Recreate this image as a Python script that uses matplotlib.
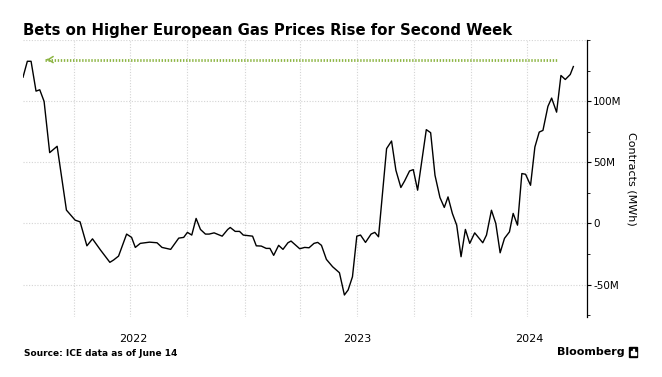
import matplotlib
matplotlib.use("Agg")
import matplotlib.pyplot as plt
from matplotlib.patches import Rectangle
from matplotlib.ticker import FixedLocator
import pandas as pd

# weekly net positions (millions of MWh)
dates = [
    "2022-01-09", "2022-01-16", "2022-01-22", "2022-01-30", "2022-02-05", "2022-02-12",
    "2022-02-21", "2022-03-05", "2022-03-20", "2022-04-03", "2022-04-11", "2022-04-22",
    "2022-05-01", "2022-05-14", "2022-05-29", "2022-06-04", "2022-06-12", "2022-06-25",
    "2022-07-03", "2022-07-09", "2022-07-17", "2022-08-01", "2022-08-13", "2022-08-21",
    "2022-09-04", "2022-09-17", "2022-09-25", "2022-10-01", "2022-10-08", "2022-10-15",
    "2022-10-22", "2022-10-30", "2022-11-05", "2022-11-13", "2022-11-26", "2022-12-05",
    "2022-12-09", "2022-12-17", "2022-12-24", "2022-12-30", "2023-01-14", "2023-01-20",
    "2023-01-28", "2023-02-05", "2023-02-11", "2023-02-17", "2023-02-25", "2023-03-04",
    "2023-03-12", "2023-03-17", "2023-03-31", "2023-04-08", "2023-04-15", "2023-04-23",
    "2023-04-29", "2023-05-05", "2023-05-13", "2023-05-23", "2023-06-03", "2023-06-11",
    "2023-06-17", "2023-06-24", "2023-07-01", "2023-07-07", "2023-07-15", "2023-07-24",
    "2023-07-30", "2023-08-05", "2023-08-18", "2023-08-26", "2023-09-02", "2023-09-10",
    "2023-09-16", "2023-09-24", "2023-09-30", "2023-10-07", "2023-10-21", "2023-10-28",
    "2023-11-04", "2023-11-12", "2023-11-19", "2023-11-25", "2023-12-02", "2023-12-09",
    "2023-12-16", "2023-12-23", "2023-12-30", "2024-01-07", "2024-01-20", "2024-01-26",
    "2024-02-03", "2024-02-10", "2024-02-17", "2024-02-24", "2024-03-03", "2024-03-09",
    "2024-03-16", "2024-03-23", "2024-03-29", "2024-04-06", "2024-04-13", "2024-04-20",
    "2024-04-26", "2024-05-04", "2024-05-10", "2024-05-18", "2024-05-25", "2024-06-01",
    "2024-06-09", "2024-06-14",
]
contracts = [
    119.6, 132.6, 132.6, 108.2, 109.3, 99.8,
    57.9, 63.1, 10.9, 2.7, 1.3, -18.3,
    -12.6, -21.8, -31.8, -29.9, -26.7, -8.7,
    -11.4, -19.6, -16.3, -15.3, -15.8, -19.6,
    -21.2, -12.0, -11.4, -7.3, -9.5, 4.1,
    -4.9, -8.7, -8.7, -7.7, -10.4, -4.9,
    -3.3, -6.5, -6.5, -9.5, -10.4, -18.3,
    -18.5, -20.4, -20.4, -26.1, -17.9, -21.2,
    -15.8, -14.4, -20.7, -19.6, -19.9, -16.3,
    -15.5, -17.9, -29.4, -35.4, -40.3, -58.5,
    -54.4, -43.6, -10.4, -9.5, -15.5, -8.7,
    -7.3, -10.9, 61.2, 67.4, 43.5, 29.4,
    34.7, 42.9, 44.0, 27.2, 76.7, 74.2,
    39.4, 21.2, 13.1, 21.7, 8.2, -1.4,
    -27.2, -4.9, -16.3, -7.7, -15.8, -9.5,
    10.8, 0.0, -24.0, -12.2, -6.9, 8.2,
    -1.4, 40.8, 40.2, 31.2, 62.5, 74.7,
    76.1, 95.7, 102.5, 91.0, 121.0, 117.7,
    121.8, 128.3,
]

# reference level arrow (back to the early-2022 high)
arrow_level = 134.0
arrow_from = "2024-05-18"
arrow_to = "2022-02-14"

year_labels = ["2022", "2023", "2024"]
y_ticks = [-50, 0, 50, 100]
y_tick_labels = ["-50M", "0", "50M", "100M"]

x = pd.to_datetime(dates)
x_start = pd.Timestamp("2022-01-09")
x_end = pd.Timestamp("2024-07-06")
y_min, y_max = -76.5, 150

W, H = 662, 377
fig = plt.figure(figsize=(W / 100, H / 100), dpi=100)
ax = fig.add_axes([23 / W, 1 - 317 / H, (587 - 23) / W, (317 - 40) / H])

grid_kw = dict(color="#d4d4d4", lw=0.8, ls=(0, (1, 1.5)), zorder=0)
for q in pd.date_range("2022-04-01", "2024-04-01", freq="QS"):
    ax.axvline(q, **grid_kw)
for v in y_ticks + [y_max]:
    ax.axhline(v, **grid_kw)

ax.plot(x, contracts, color="black", lw=1.0, zorder=3)

green = "#8db544"
a0, a1 = pd.Timestamp(arrow_from), pd.Timestamp(arrow_to)
ax.plot([a1, a0], [arrow_level, arrow_level], color=green, lw=2.0,
        ls=(0, (0.5, 0.6)), solid_capstyle="butt", zorder=2)
ax.annotate("", xy=(a1 - pd.Timedelta(days=2), arrow_level),
            xytext=(a1 + pd.Timedelta(days=8), arrow_level),
            arrowprops=dict(arrowstyle="->,head_length=0.35,head_width=0.22",
                            color=green, lw=1.1))

ax.set_xlim(x_start, x_end)
ax.set_ylim(y_min, y_max)

# year labels centred on the visible part of each year
mids = []
for yr in year_labels:
    lo = max(pd.Timestamp(f"{yr}-01-01"), x_start)
    hi = min(pd.Timestamp(f"{int(yr) + 1}-01-01"), x_end)
    mids.append(lo + (hi - lo) / 2)
ax.set_xticks(mids)
ax.set_xticklabels(year_labels)
ax.tick_params(axis="x", length=0, pad=12.5, labelsize=8)

ax.yaxis.tick_right()
ax.set_yticks(y_ticks)
ax.set_yticklabels(y_tick_labels)
ax.yaxis.set_minor_locator(FixedLocator([-75, -25, 25, 75, 125, 150]))
ax.tick_params(axis="y", which="major", length=3, width=0.8, pad=1.5,
               labelsize=7.5, direction="out")
ax.tick_params(axis="y", which="minor", length=2, width=0.6, direction="out")

for s in ["top", "left", "bottom"]:
    ax.spines[s].set_visible(False)
ax.spines["right"].set_linewidth(0.9)

fig.text(631.5 / W, 1 - 178.5 / H, "Contracts (MWh)", rotation=270,
         ha="center", va="center", fontsize=8)

fig.text(23 / W, 1 - 35 / H,
         "Bets on Higher European Gas Prices Rise for Second Week",
         fontsize=10.7, fontweight="bold", ha="left", va="baseline")
fig.text(24 / W, 1 - 353 / H, "Source: ICE data as of June 14",
         fontsize=6.5, fontweight="bold", ha="left", va="center")
fig.text(625 / W, 1 - 352 / H, "Bloomberg", fontsize=8, fontweight="bold",
         ha="right", va="center")

# small logo mark next to the wordmark
fig.add_artist(Rectangle((629 / W, 1 - 357 / H), 8 / W, 10 / H,
                         transform=fig.transFigure, color="black"))
for bx, bh in [(631, 4), (633, 6), (635, 3)]:
    fig.add_artist(Rectangle((bx / W, 1 - 355 / H), 1 / W, bh / H,
                             transform=fig.transFigure, color="white"))

fig.savefig("out.png", dpi=100)
